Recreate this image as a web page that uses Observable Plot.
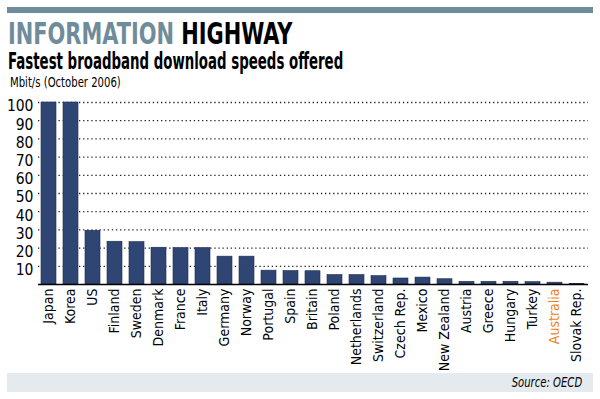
<!DOCTYPE html>
<html>
<head>
<meta charset="utf-8">
<script src="https://cdn.jsdelivr.net/npm/d3@7"></script>
<script src="https://cdn.jsdelivr.net/npm/@observablehq/plot@0.6"></script>
<style>
  html, body { margin: 0; padding: 0; background: #fff; }
  body { width: 600px; height: 399px; overflow: hidden; position: relative;
         font-family: "DejaVu Sans Condensed", sans-serif; font-stretch: condensed; }
  #topbar { position: absolute; left: 7px; top: 7px; width: 586px; height: 6px; background: #6f8c9b; }
  .sq { position: absolute; white-space: nowrap; transform-origin: 0 0; }
  #title { left: 8px; top: 20px; font-size: 30px; font-weight: bold; line-height: 28px; transform: scaleX(0.775); }
  #title .a { color: #6f8c9b; }
  #title .b { color: #000; }
  #subtitle { left: 8px; top: 50px; font-size: 23px; font-weight: bold; line-height: 22px; color: #000; transform: scaleX(0.645); }
  #unit { left: 10px; top: 74px; font-size: 13.5px; line-height: 16px; color: #000; transform: scaleX(0.83); }
  #chart { position: absolute; left: 0; top: 90px; }
  #footer { position: absolute; left: 7px; top: 373px; width: 586px; height: 19px; background: #e5eaee; }
  #source { position: absolute; right: 18px; top: 374px; font-size: 14px; font-style: italic; line-height: 17px; color: #000; transform: scaleX(0.8); transform-origin: 100% 0; white-space: nowrap; }
</style>
</head>
<body>
<div id="topbar"></div>
<div id="title" class="sq"><span class="a">INFORMATION</span> <span class="b">HIGHWAY</span></div>
<div id="subtitle" class="sq">Fastest broadband download speeds offered</div>
<div id="unit" class="sq">Mbit/s (October 2006)</div>
<div id="chart"></div>
<div id="footer"></div>
<div id="source">Source: OECD</div>
<script>
const countries = ["Japan","Korea","US","Finland","Sweden","Denmark","France","Italy","Germany","Norway","Portugal","Spain","Britain","Poland","Netherlands","Switzerland","Czech Rep.","Mexico","New Zealand","Austria","Greece","Hungary","Turkey","Australia","Slovak Rep."];
const speeds = [100,100,29.5,23.5,23.3,20.2,20,20,15.3,15.3,7.6,7.4,7.3,5.2,5.2,4.6,3.3,3.8,2.9,1.5,1.5,1.5,1.3,1,0.3];
const yTicks = [10,20,30,40,50,60,70,80,90,100];
const highlight = "Australia";

const data = countries.map((c, i) => ({country: c, speed: speeds[i]}));

const chart = Plot.plot({
  width: 600,
  height: 283,
  marginTop: 12,
  marginBottom: 89,
  marginLeft: 38,
  marginRight: 12,
  style: {fontFamily: '"DejaVu Sans Condensed", sans-serif', fontSize: "14px", color: "#000", background: "transparent", overflow: "visible"},
  x: {domain: countries, paddingInner: 0.3, paddingOuter: 0.1, label: null},
  y: {domain: [0, 100], label: null},
  marks: [
    Plot.ruleY(yTicks, {stroke: "#222", strokeWidth: 1.3, strokeDasharray: "1.3,2.8", strokeOpacity: 1}),
    Plot.barY(data, {x: "country", y: "speed", fill: "#2f4573", stroke: "#1e2d52", strokeWidth: 0.6}),
    Plot.ruleY([0], {stroke: "#000", strokeWidth: 1.6}),
    Plot.axisY(yTicks, {tickSize: 0, tickPadding: 5, fontSize: 15.5, dy: 4, label: null}),
    Plot.axisX({tickSize: 0, tickPadding: 4, tickRotate: -90, fontSize: 14, label: null,
      fill: d => d === highlight ? "#f07f1a" : "#000",
      fontWeight: d => d === highlight ? "bold" : "normal"})
  ]
});
document.getElementById("chart").appendChild(chart);
</script>
</body>
</html>
